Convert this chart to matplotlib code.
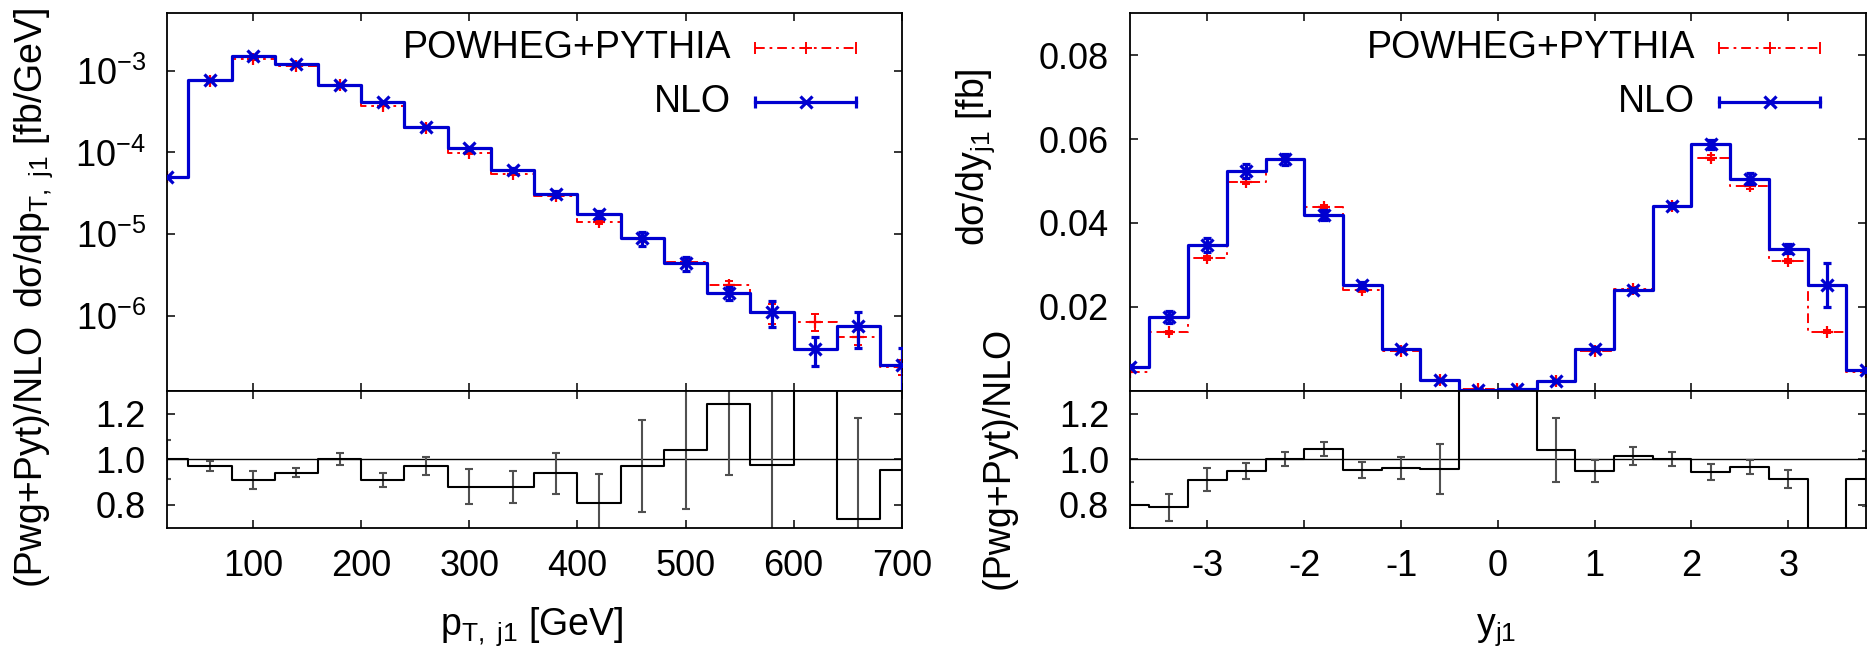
import numpy as np
import matplotlib
matplotlib.use("Agg")
import matplotlib.pyplot as plt
from matplotlib.ticker import FixedLocator, FuncFormatter, NullLocator

plt.rcParams['font.family'] = ['Liberation Sans', 'DejaVu Sans']
plt.rcParams['mathtext.fontset'] = 'custom'
plt.rcParams['mathtext.rm'] = 'Liberation Sans'
plt.rcParams['mathtext.it'] = 'Liberation Sans:italic'
plt.rcParams['mathtext.default'] = 'regular'
plt.rcParams['axes.unicode_minus'] = False

# ---------------- data: leading-jet pT ----------------
pt_centers = [20, 60, 100, 140, 180, 220, 260, 300, 340, 380,
              420, 460, 500, 540, 580, 620, 660, 700]
nlo_pt = [5.0e-5, 7.7e-4, 1.53e-3, 1.20e-3, 6.7e-4, 4.1e-4, 2.06e-4, 1.12e-4,
          6.1e-5, 3.1e-5, 1.74e-5, 8.9e-6, 4.4e-6, 1.92e-6, 1.12e-6, 3.95e-7,
          7.5e-7, 2.5e-7]
nlo_pt_err = [1.5e-6, 2.0e-5, 4.0e-5, 3.0e-5, 1.5e-5, 1.0e-5, 6.0e-6, 4.0e-6,
              3.0e-6, 2.5e-6, 1.8e-6, 1.8e-6, 0.9e-6, 0.35e-6, 0.4e-6, 1.5e-7,
              3.5e-7, 1.5e-7]
pwg_pt = [5.0e-5, 7.47e-4, 1.39e-3, 1.13e-3, 6.7e-4, 3.73e-4, 2.0e-4, 9.86e-5,
          5.37e-5, 2.91e-5, 1.41e-5, 8.63e-6, 4.58e-6, 2.38e-6, 1.09e-6, 8.5e-7,
          5.55e-7, 2.38e-7]
pwg_pt_err = [1.0e-6, 1.2e-5, 2.5e-5, 2.0e-5, 1.0e-5, 6.0e-6, 4.0e-6, 2.5e-6,
              1.5e-6, 1.0e-6, 0.8e-6, 0.6e-6, 0.4e-6, 0.3e-6, 0.3e-6, 2.0e-7,
              1.2e-7, 0.5e-7]
ratio_pt_err = [0.085, 0.02, 0.04, 0.02, 0.025, 0.03, 0.04, 0.075, 0.07, 0.09,
                0.125, 0.2, 0.26, 0.31, 0.6, 0.5, 0.44, 0.5]
pt_xticks = [100, 200, 300, 400, 500, 600, 700]

# ---------------- data: leading-jet rapidity ----------------
y_centers = [-3.8, -3.4, -3.0, -2.6, -2.2, -1.8, -1.4, -1.0, -0.6, -0.2,
             0.2, 0.6, 1.0, 1.4, 1.8, 2.2, 2.6, 3.0, 3.4, 3.8]
nlo_y = [0.0057, 0.0176, 0.0347, 0.0524, 0.0552, 0.0419, 0.0252, 0.0099, 0.0026, 0.0002,
         0.0003, 0.0023, 0.0100, 0.0240, 0.0441, 0.0588, 0.0506, 0.0339, 0.0252, 0.0049]
nlo_y_err = [0.0004, 0.0014, 0.0016, 0.0016, 0.0013, 0.0012, 0.0008, 0.0004, 0.0002, 0.0001,
             0.0001, 0.0002, 0.0004, 0.0005, 0.0006, 0.0011, 0.0012, 0.0010, 0.0052, 0.0004]
pwg_y = [0.00456, 0.0139, 0.0316, 0.0498, 0.0552, 0.0438, 0.0240, 0.00952, 0.00249, 0.0004,
         0.0005, 0.00239, 0.00948, 0.0243, 0.0441, 0.0556, 0.0488, 0.0310, 0.0141, 0.00448]
pwg_y_err = [0.0002, 0.0004, 0.0005, 0.0006, 0.0006, 0.0005, 0.0004, 0.0002, 0.0001, 0.0001,
             0.0001, 0.0001, 0.0002, 0.0004, 0.0005, 0.0006, 0.0006, 0.0005, 0.0004, 0.0002]
ratio_y_err = [0.1, 0.06, 0.05, 0.035, 0.03, 0.03, 0.035, 0.05, 0.11, 0.2,
               0.15, 0.14, 0.05, 0.04, 0.03, 0.035, 0.03, 0.04, 0.1, 0.12]
y_xticks = [-3, -2, -1, 0, 1, 2, 3]

labels = ['POWHEG+PYTHIA', 'NLO']

BLUE = '#0000d0'
RED = '#ff0000'
GRAY = '#505050'
FS = 26      # tick labels
FT = 27      # titles and legend
DASHDOT = (0, (5, 2.5, 1.4, 2.5))

fig = plt.figure(figsize=(18.69, 6.5), dpi=100)

L0, W = 0.08919, 0.39326
R0, WR = 0.60460, 0.39363
YB, HB = 0.18815, 0.21077
YT, HT = 0.39892, 0.58062

def style(ax, xticks, xlabels=False):
    ax.tick_params(direction='in', length=6, width=1.1, top=True, right=True,
                   labelsize=FS, pad=15)
    ax.xaxis.set_major_locator(FixedLocator(xticks))
    ax.xaxis.set_minor_locator(NullLocator())
    ax.yaxis.set_minor_locator(NullLocator())
    if not xlabels:
        ax.tick_params(labelbottom=False)
    for s in ax.spines.values():
        s.set_linewidth(1.3)

def draw_main(ax, x, nlo, nerr, pwg, perr):
    ax.step(x, pwg, where='mid', color=RED, lw=1.4, ls=DASHDOT, zorder=2)
    ax.errorbar(x, pwg, yerr=perr, fmt='none', ecolor=RED, elinewidth=1.4,
                capsize=3, capthick=1.4, zorder=2)
    ax.plot(x, pwg, ls='none', marker='+', ms=8, mew=1.6, color=RED, zorder=2)
    ax.step(x, nlo, where='mid', color=BLUE, lw=2.3, zorder=3)
    ax.errorbar(x, nlo, yerr=nerr, fmt='none', ecolor=BLUE, elinewidth=2.3,
                capsize=3, capthick=2.3, zorder=3)
    ax.plot(x, nlo, ls='none', marker='x', ms=8, mew=2.3, color=BLUE, zorder=3)

def draw_legend(ax):
    tx = 0.768
    x0, x1 = 0.801, 0.938
    for lab, yy, col, ls, lw, mk in [(labels[0], 0.908, RED, DASHDOT, 1.4, '+'),
                                     (labels[1], 0.766, BLUE, '-', 2.3, 'x')]:
        ax.text(tx, yy, lab, transform=ax.transAxes, ha='right', va='center',
                fontsize=FT, zorder=6)
        ax.plot([x0, x1], [yy, yy], transform=ax.transAxes, color=col, ls=ls,
                lw=lw, zorder=6, clip_on=False)
        ax.plot([x0, x1], [yy, yy], transform=ax.transAxes, ls='none', marker='|',
                ms=8, mew=lw, color=col, zorder=6, clip_on=False)
        ax.plot([(x0 + x1) / 2], [yy], transform=ax.transAxes, ls='none', marker=mk,
                ms=8, mew=lw, color=col, zorder=6, clip_on=False)

def draw_ratio(ax, x, nlo, pwg, rerr):
    r = np.array(pwg) / np.array(nlo)
    ax.axhline(1.0, color='black', lw=1.0, zorder=1)
    ax.step(x, r, where='mid', color='black', lw=1.5, zorder=3)
    ax.errorbar(x, r, yerr=rerr, fmt='none', ecolor=GRAY, elinewidth=1.5,
                capsize=3, capthick=1.5, zorder=2)
    ax.set_ylim(0.7, 1.3)
    ax.yaxis.set_major_locator(FixedLocator([0.8, 1.0, 1.2]))
    ax.yaxis.set_major_formatter(FuncFormatter(lambda v, p: '%.1f' % v))

# ---------- left: pT ----------
axL = fig.add_axes([L0, YT, W, HT])
draw_main(axL, pt_centers, nlo_pt, nlo_pt_err, pwg_pt, pwg_pt_err)
axL.set_yscale('log')
axL.set_xlim(20, 700)
axL.set_ylim(1.21e-7, 5.05e-3)
style(axL, pt_xticks)
axL.yaxis.set_major_locator(FixedLocator([1e-6, 1e-5, 1e-4, 1e-3]))
axL.yaxis.set_minor_locator(NullLocator())
axL.yaxis.set_major_formatter(FuncFormatter(
    lambda v, p: r'$\mathregular{10^{%d}}$' % int(round(np.log10(v)))))
draw_legend(axL)

axLr = fig.add_axes([L0, YB, W, HB])
draw_ratio(axLr, pt_centers, nlo_pt, pwg_pt, ratio_pt_err)
axLr.set_xlim(20, 700)
style(axLr, pt_xticks, xlabels=True)

# ---------- right: rapidity ----------
axR = fig.add_axes([R0, YT, WR, HT])
draw_main(axR, y_centers, nlo_y, nlo_y_err, pwg_y, pwg_y_err)
axR.set_xlim(-3.8, 3.8)
axR.set_ylim(0, 0.09)
style(axR, y_xticks)
axR.yaxis.set_major_locator(FixedLocator([0.02, 0.04, 0.06, 0.08]))
axR.yaxis.set_major_formatter(FuncFormatter(lambda v, p: '%.2f' % v))
draw_legend(axR)

axRr = fig.add_axes([R0, YB, WR, HB])
draw_ratio(axRr, y_centers, nlo_y, pwg_y, ratio_y_err)
axRr.set_xlim(-3.8, 3.8)
style(axRr, y_xticks, xlabels=True)
axRr.xaxis.set_major_formatter(FuncFormatter(lambda v, p: '%d' % round(v)))

# ---------- axis titles ----------
fig.text(12 / 1869, 1 - 585 / 650, '(Pwg+Pyt)/NLO', rotation=90, ha='left', va='bottom',
         fontsize=FT)
fig.text(12 / 1869, 1 - 8 / 650, 'dσ/dp$_{T,\\ j1}$ [fb/GeV]', rotation=90, ha='left',
         va='top', fontsize=FT)
fig.text(981 / 1869, 1 - 589 / 650, '(Pwg+Pyt)/NLO', rotation=90, ha='left', va='bottom',
         fontsize=FT)
fig.text(954 / 1869, 1 - 68 / 650, 'dσ/dy$_{j1}$ [fb]', rotation=90, ha='left', va='top',
         fontsize=FT)
fig.text(532 / 1869, 2 / 650, 'p$_{T,\\ j1}$ [GeV]', ha='center', va='bottom', fontsize=FT)
fig.text(1496 / 1869, 2 / 650, 'y$_{j1}$', ha='center', va='bottom', fontsize=FT)

fig.savefig('out.png', dpi=100)
